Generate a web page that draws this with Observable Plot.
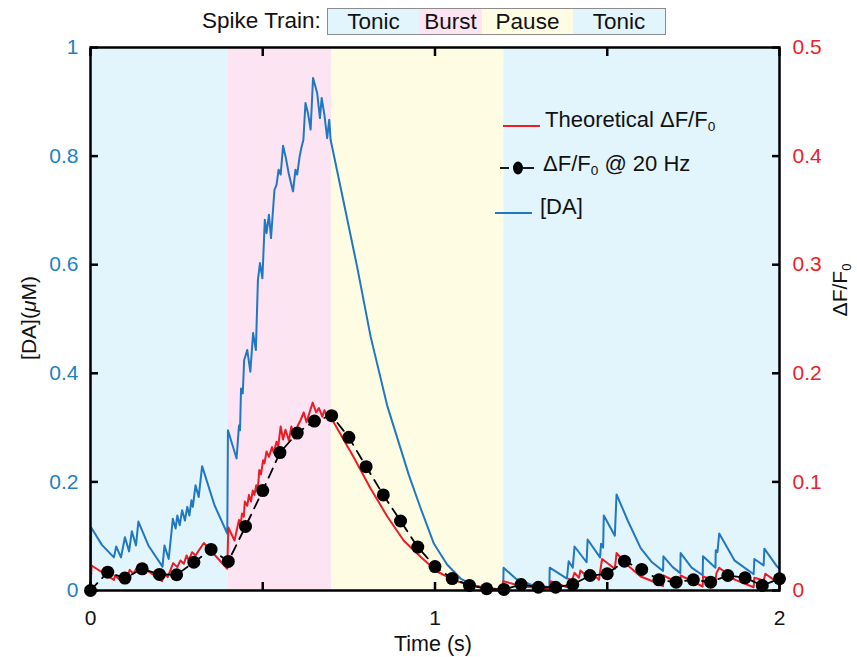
<!DOCTYPE html>
<html><head><meta charset="utf-8">
<script src="https://cdn.jsdelivr.net/npm/d3@7"></script>
<script src="https://cdn.jsdelivr.net/npm/@observablehq/plot@0.6"></script>
<style>
body{margin:0;background:#fff;font-family:"Liberation Sans",Arial,sans-serif;}
#wrap{position:relative;width:857px;height:657px;overflow:hidden;}
#chart svg{display:block;}
.abs{position:absolute;white-space:nowrap;color:#111;font-size:21px;line-height:1;}
sub{font-size:0.62em;vertical-align:-0.32em;line-height:0;}
.seg{display:inline-block;height:100%;text-align:center;line-height:25px;font-size:22.5px;color:#111;}
</style></head><body>
<div id="wrap">
  <div id="chart"></div>
</div>
<script>
// ---------- data ----------
const phaseNames  = ["Tonic", "Burst", "Pause", "Tonic"];
const phaseStart  = [0, 0.4, 0.7, 1.2];
const phaseEnd    = [0.4, 0.7, 1.2, 2];
const phaseColors = ["#e2f4fc", "#fde4f2", "#fefde4", "#e2f4fc"];
const headerWidths = [91, 63, 91, 92];

// [DA] (µM) trace vertices
const daTime = [0,0.002,0.033,0.068,0.0746,0.0885,0.100,0.112,0.120,0.132,0.139,0.168,0.209,0.2148,0.227,0.239,0.247,0.252,0.259,0.266,0.274,0.281,0.287,0.293,0.297,0.305,0.314,0.324,0.360,0.397,
  0.399,0.424,0.431,0.434,0.437,0.442,0.446,0.455,0.464,0.472,0.480,0.486,0.492,0.499,0.506,0.511,0.518,0.524,0.534,0.540,0.546,0.552,0.559,0.567,0.576,0.588,0.595,0.600,0.607,0.612,0.618,0.624,0.631,0.639,0.646,0.658,0.666,0.671,0.679,0.687,0.693,0.697,
  0.735,0.774,0.813,0.861,0.924,0.958,0.997,1.035,1.074,1.110,1.151,1.198,
  1.199,1.234,1.277,1.332,1.333,1.383,1.388,1.400,1.405,1.440,1.443,1.479,1.482,1.488,1.490,1.522,1.527,1.560,1.597,1.630,1.662,1.663,1.690,1.712,1.713,1.745,1.777,1.778,1.814,1.815,1.820,1.825,1.870,1.925,1.927,1.954,1.956,1.993,2.000];
const daValue = [0,0.116,0.084,0.061,0.081,0.061,0.098,0.072,0.109,0.083,0.127,0.083,0.044,0.083,0.058,0.132,0.114,0.138,0.120,0.148,0.129,0.154,0.138,0.166,0.154,0.194,0.172,0.229,0.157,0.105,
  0.295,0.243,0.304,0.295,0.372,0.363,0.424,0.443,0.403,0.474,0.443,0.572,0.603,0.575,0.683,0.658,0.692,0.649,0.738,0.747,0.775,0.766,0.819,0.797,0.766,0.735,0.775,0.766,0.799,0.815,0.830,0.898,0.880,0.849,0.944,0.916,0.870,0.907,0.876,0.833,0.867,0.830,
  0.715,0.596,0.468,0.341,0.213,0.152,0.086,0.048,0.022,0.010,0.004,0.002,
  0.042,0.022,0.011,0.006,0.042,0.022,0.054,0.042,0.081,0.052,0.094,0.061,0.086,0.079,0.138,0.101,0.177,0.128,0.078,0.052,0.036,0.063,0.043,0.032,0.069,0.042,0.028,0.063,0.042,0.074,0.071,0.105,0.055,0.030,0.058,0.046,0.077,0.044,0.040];

// Theoretical ΔF/F0 trace vertices
const dfTime = [0,0.003,0.068,0.071,0.085,0.092,0.106,0.114,0.124,0.140,0.208,0.213,0.224,0.240,0.252,0.261,0.271,0.279,0.285,0.295,0.305,0.329,0.397,
  0.400,0.418,0.431,0.435,0.440,0.445,0.448,0.455,0.460,0.466,0.471,0.476,0.481,0.486,0.490,0.495,0.501,0.505,0.511,0.518,0.527,0.532,0.540,0.545,0.552,0.559,0.566,0.576,0.583,0.592,0.602,0.610,0.619,0.627,0.636,0.645,0.655,0.663,0.673,0.679,0.689,0.693,
  0.764,0.813,0.861,0.909,0.958,1.006,1.055,1.103,1.151,1.197,
  1.198,1.250,1.300,1.333,1.335,1.384,1.389,1.397,1.405,1.418,1.422,1.442,1.447,1.476,1.480,1.485,1.522,1.527,1.560,1.597,1.626,1.662,1.663,1.712,1.713,1.777,1.778,1.814,1.817,1.825,1.870,1.925,1.927,1.954,1.959,1.993,2.000];
const dfValue = [0,0.023,0.0098,0.0138,0.0098,0.016,0.0123,0.019,0.0154,0.024,0.0086,0.0169,0.0123,0.0252,0.0215,0.0277,0.0246,0.0323,0.0277,0.0353,0.0323,0.0437,0.020,
  0.058,0.046,0.065,0.059,0.071,0.068,0.082,0.078,0.088,0.082,0.092,0.088,0.097,0.094,0.111,0.107,0.120,0.117,0.128,0.123,0.132,0.127,0.137,0.133,0.151,0.139,0.148,0.138,0.151,0.140,0.152,0.157,0.164,0.155,0.164,0.173,0.164,0.168,0.160,0.166,0.158,0.162,
  0.1226,0.094,0.0684,0.046,0.031,0.0175,0.0095,0.0048,0.002,0.001,
  0.0086,0.004,0.0022,0.0016,0.0086,0.003,0.0108,0.0086,0.0163,0.0117,0.0185,0.0129,0.019,0.0098,0.0185,0.029,0.020,0.0345,0.023,0.0129,0.0092,0.0040,0.0138,0.0062,0.0138,0.0037,0.0129,0.0092,0.016,0.021,0.010,0.003,0.0117,0.0092,0.0154,0.0077,0.0072];

// ΔF/F0 sampled @ 20 Hz
const sampleTime  = [0,0.05,0.10,0.15,0.20,0.25,0.30,0.35,0.40,0.45,0.50,0.55,0.60,0.65,0.70,0.75,0.80,0.85,0.90,0.95,1.00,1.05,1.10,1.15,1.20,1.25,1.30,1.35,1.40,1.45,1.50,1.55,1.60,1.65,1.70,1.75,1.80,1.85,1.90,1.95,2.00];
const sampleValue = [0,0.0169,0.0114,0.020,0.0148,0.0145,0.026,0.0378,0.0268,0.059,0.092,0.127,0.145,0.156,0.161,0.141,0.114,0.088,0.064,0.040,0.022,0.011,0.0047,0.0016,0.001,0.0055,0.003,0.003,0.0055,0.0138,0.0154,0.027,0.0194,0.0098,0.0077,0.0098,0.0077,0.0138,0.0117,0.0046,0.0108];

// axes ticks / labels
const xTicks = [0, 0.5, 1, 1.5, 2];
const xLabels = [0, 1, 2];
const yTicks = [0, 0.2, 0.4, 0.6, 0.8, 1];
const yLeftLabels  = ["0", "0.2", "0.4", "0.6", "0.8", "1"];
const yRightLabels = ["0", "0.1", "0.2", "0.3", "0.4", "0.5"];
const dfToDa = 2; // right axis (0–0.5) mapped onto left axis (0–1)

// ---------- styles ----------
const BLUE = "#1f78c1", RED = "#ec1c24";
const BLUE_TXT = "#1f80c8", RED_TXT = "#ec2229";
const FONT = "'Liberation Sans', Arial, sans-serif";

const phases = phaseNames.map((n, i) => ({name: n, t0: phaseStart[i], t1: phaseEnd[i], color: phaseColors[i]}));
const da = daTime.map((t, i) => ({t, v: daValue[i]}));
const df = dfTime.map((t, i) => ({t, v: dfValue[i] * dfToDa}));
const samples = sampleTime.map((t, i) => ({t, v: sampleValue[i] * dfToDa}));

const chart = Plot.plot({
  width: 857, height: 657,
  marginTop: 47, marginBottom: 67, marginLeft: 90, marginRight: 78,
  style: {fontFamily: FONT, background: "transparent"},
  x: {domain: [0, 2]},
  y: {domain: [0, 1]},
  color: {type: "identity"},
  marks: [
    Plot.rect(phases, {x1: "t0", x2: "t1", y1: 0, y2: 1, fill: "color"}),
    Plot.line(da, {x: "t", y: "v", stroke: BLUE, strokeWidth: 2}),
    Plot.line(df, {x: "t", y: "v", stroke: RED, strokeWidth: 2}),
    Plot.line(samples, {x: "t", y: "v", stroke: "black", strokeWidth: 1.8, strokeDasharray: "10,7"}),
    Plot.dot(samples, {x: "t", y: "v", r: 6.5, fill: "black"}),
    // inward ticks
    Plot.axisX(xTicks, {anchor: "bottom", tickSize: -8, strokeWidth: 2.5, tickFormat: () => "", label: null}),
    Plot.axisX(xTicks, {anchor: "top", tickSize: -8, strokeWidth: 2.5, tickFormat: () => "", label: null}),
    Plot.axisY(yTicks, {anchor: "left", tickSize: -8, strokeWidth: 2.5, tickFormat: () => "", label: null}),
    Plot.axisY(yTicks, {anchor: "right", tickSize: -8, strokeWidth: 2.5, tickFormat: () => "", label: null}),
    // tick labels
    Plot.axisX(xLabels, {anchor: "bottom", tickSize: 0, tickPadding: 20, fontSize: 21, fill: "#111", tickFormat: d => String(d), label: null}),
    Plot.axisY(yTicks, {anchor: "left", tickSize: 0, tickPadding: 12, fontSize: 21, fill: BLUE_TXT, tickFormat: d => yLeftLabels[yTicks.indexOf(d)], label: null}),
    Plot.axisY(yTicks, {anchor: "right", tickSize: 0, tickPadding: 13, fontSize: 21, fill: RED_TXT, tickFormat: d => yRightLabels[yTicks.indexOf(d)], label: null}),
    Plot.frame({stroke: "black", strokeWidth: 2.5})
  ]
});
document.getElementById("chart").append(chart);

// ---------- HTML text: header, legend, axis titles ----------
const wrap = document.getElementById("wrap");
function add(html, css) {
  const d = document.createElement("div");
  d.className = "abs";
  d.innerHTML = html;
  Object.assign(d.style, css);
  wrap.append(d);
  return d;
}
// header
add("Spike Train:", {left: "202px", top: "10px", fontSize: "22.5px"});
const box = add("", {left: "327px", top: "8px", height: "25px", border: "1.5px solid #8c8c8c", display: "flex"});
phaseNames.forEach((n, i) => {
  const s = document.createElement("span");
  s.className = "seg";
  s.textContent = n;
  s.style.width = headerWidths[i] + "px";
  s.style.background = phaseColors[i];
  box.append(s);
});
// legend
const legendLabels = ["Theoretical ΔF/F<sub>0</sub>", "ΔF/F<sub>0</sub> @ 20 Hz", "[DA]"];
add(`<svg width="40" height="10" style="vertical-align:middle"><line x1="0" x2="37" y1="5" y2="5" stroke="${RED}" stroke-width="2"/></svg>`, {left: "503px", top: "114px"});
add(legendLabels[0], {left: "545px", top: "109px", fontSize: "22px"});
add(`<svg width="40" height="16" style="vertical-align:middle"><line x1="0" x2="9" y1="8" y2="8" stroke="black" stroke-width="1.8"/><line x1="23" x2="34" y1="8" y2="8" stroke="black" stroke-width="1.8"/><ellipse cx="18" cy="8" rx="5" ry="6.5" fill="black"/></svg>`, {left: "500px", top: "156px"});
add(legendLabels[1], {left: "543px", top: "153px", fontSize: "22px"});
add(`<svg width="40" height="10" style="vertical-align:middle"><line x1="0" x2="37" y1="5" y2="5" stroke="${BLUE}" stroke-width="2"/></svg>`, {left: "495px", top: "201px"});
add(legendLabels[2], {left: "540px", top: "196px", fontSize: "22px"});
// axis titles
add("Time (s)", {left: "433px", top: "634px", transform: "translateX(-50%)", fontSize: "21.5px"});
add("[DA](<i>μ</i>M)", {left: "28px", top: "318px", transform: "translate(-50%,-50%) rotate(-90deg)"});
add("ΔF/F<sub>0</sub>", {left: "839px", top: "290px", transform: "translate(-50%,-50%) rotate(-90deg)"});
</script>
</body></html>
